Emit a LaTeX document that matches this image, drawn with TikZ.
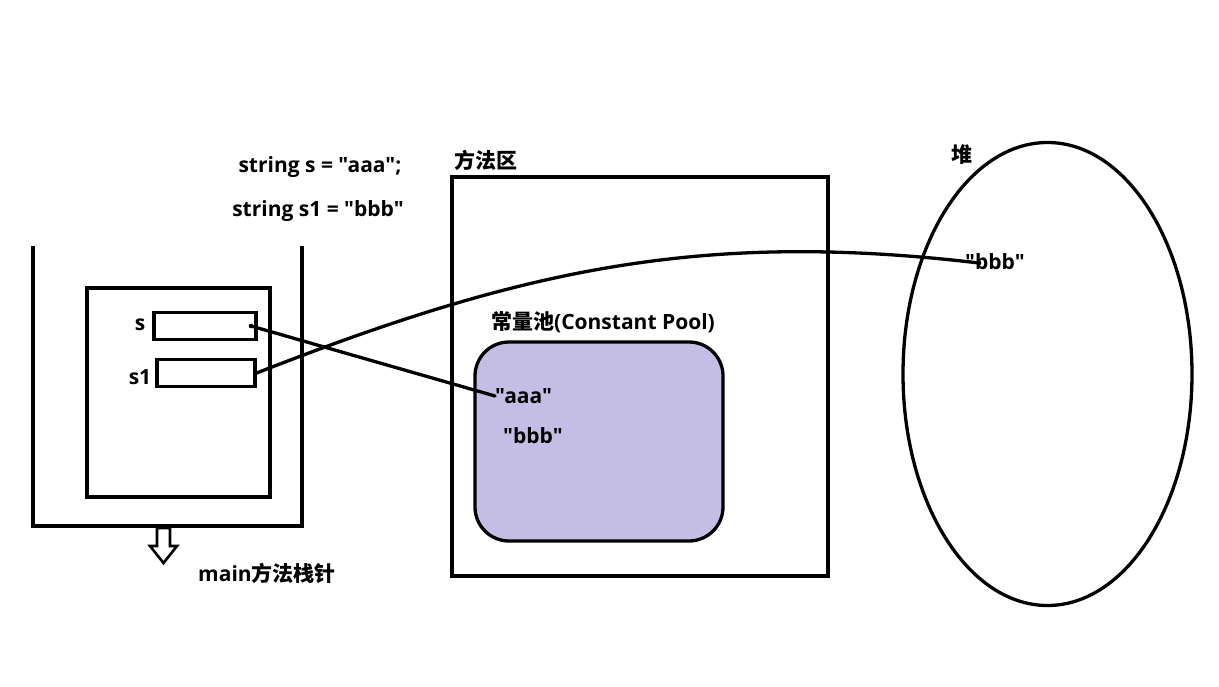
\documentclass[tikz,border=0pt]{standalone}
\usepackage{fontspec}
\setmainfont{Open Sans}[Ligatures=TeXOff]
\newfontfamily\cjk{Noto Sans CJK SC}[Ligatures=TeXOff]
\definecolor{poolfill}{RGB}{197,190,228}
\begin{document}
\begin{tikzpicture}[x=1pt,y=-1pt,
  line join=miter,
  wall/.style={line width=3.3pt},
  label/.style={font=\fontsize{21}{24}\selectfont\bfseries, inner sep=0pt, anchor=center},
  slot/.style={draw, line width=3.3pt, inner sep=0pt},
  link/.style={line width=3.3pt, line cap=round}]
\useasboundingbox (0,0) rectangle (1219,687);
\fill[white] (0,0) rectangle (1219,687);

% stack (open at the top) and the main frame
\draw[wall] (33,246) -- (33,526) -- (302,526) -- (302,246);
\draw[wall] (87,288) rectangle (270,497);
\node[slot, minimum width=102pt, minimum height=27pt] (sbox) at (205,326) {};
\node[slot, minimum width=98pt, minimum height=27pt] (s1box) at (206,373) {};
\node[label] (slab) at (140,325) {s};
\node[label] (s1lab) at (140,377) {s1};

% hollow arrow under the stack
\draw[line width=2.6pt] (157,528) -- (170,528) -- (170,546) -- (177,546) -- (163.5,563)
  -- (150,546) -- (157,546) -- cycle;
\node[label, anchor=west] (mainlab) at (198,573) {main{\cjk 方法栈针}};

% source lines
\node[label] (code1) at (320,167) {string s = "aaa";};
\node[label] (code2) at (318,211) {string s1 = "bbb"};

% method area with the constant pool
\node[label] (malab) at (486,160) {\cjk 方法区};
\draw[wall] (452,177) rectangle (828,576);
\node[label] (cplab) at (603,322) {{\cjk 常量池}(Constant Pool)};
\draw[wall, fill=poolfill, rounded corners=34pt] (475,342) rectangle (723,541);
\node[label, anchor=west] (aaa) at (495,396) {"aaa"};
\node[label, anchor=west] (bbb) at (503,436) {"bbb"};

% heap
\node[label] (heaplab) at (962,155) {\cjk 堆};
\draw[wall] (1047.5,374) ellipse [x radius=144.5, y radius=231.5];
\node[label, anchor=west] (hbbb) at (965,262) {"bbb"};
\coordinate (hbend) at (979,263);
\coordinate (sptr) at (251,326);

% references
\draw[link] (sptr) -- (aaa.west);
\draw[link] (s1box.east) .. controls (520,270) and (700,230) .. (hbend);
\fill (sptr) circle (2.3pt);
\fill (hbend) circle (2.3pt);
\end{tikzpicture}
\end{document}
